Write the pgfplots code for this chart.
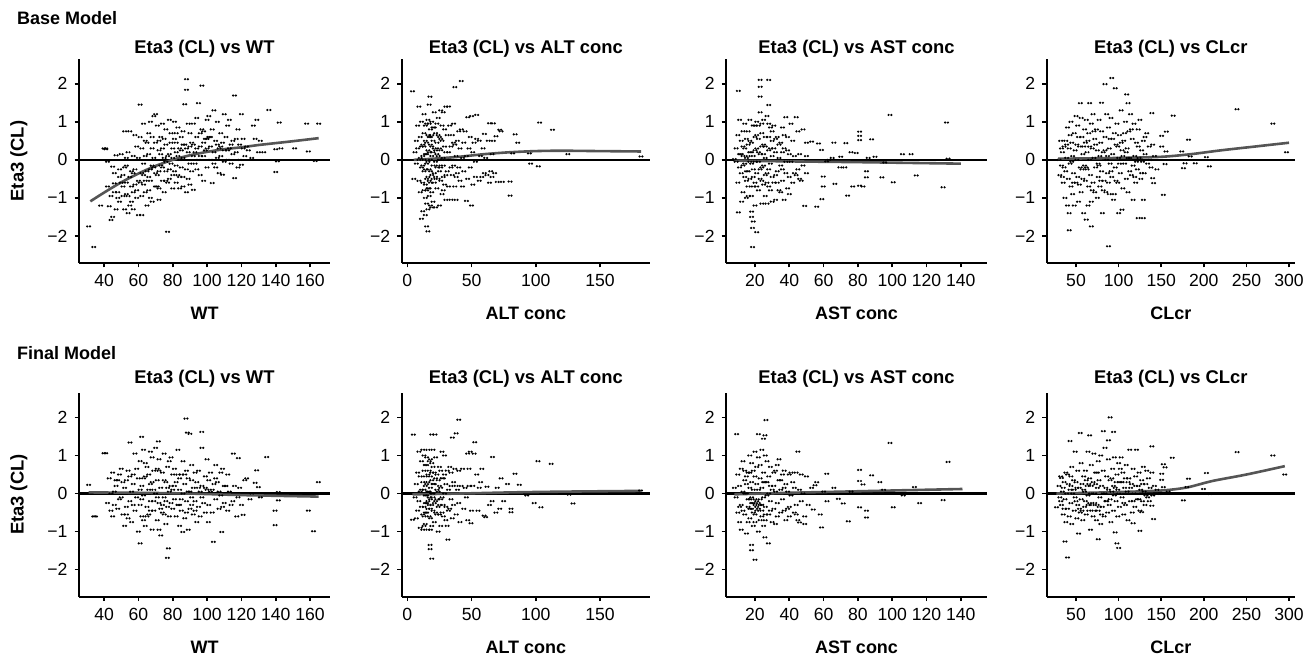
\documentclass[border=0pt]{standalone}
\usepackage{pgfplots}
\pgfplotsset{compat=1.18}
\usepackage{fontspec}
\setmainfont{Liberation Sans}

\definecolor{smooth}{RGB}{85,85,85}

% paired dots, as in the original scatter
\pgfdeclareplotmark{pair}{%
  \pgfpathcircle{\pgfqpoint{-0.7pt}{0pt}}{0.62pt}%
  \pgfpathcircle{\pgfqpoint{0.7pt}{0pt}}{0.62pt}%
  \pgfusepathqfill}

\pgfplotsset{
  every axis title shift=0pt,
  panel/.style={
    scale only axis, height=102pt,
    anchor=south west,
    axis x line*=bottom, axis y line*=left,
    axis line style={-, line width=1.2pt},
    tick align=outside, major tick length=2.2pt,
    major tick style={line width=0.8pt, black},
    ymin=-2.71, ymax=2.65,
    ytick={-2,-1,0,1,2}, yticklabels={−2,−1,0,1,2},
    /pgf/number format/assume math mode=true,
    ticklabel style={font=\fontsize{8.8}{10}\selectfont},
    xlabel style={font=\fontsize{9}{11}\selectfont\bfseries,
      at={(axis description cs:0.5,0)}, anchor=base, yshift=-28.4pt},
    title style={font=\fontsize{9.2}{11}\selectfont\bfseries,
      at={(axis description cs:0.5,1)}, anchor=base},
    clip=false,
  },
  toprow/.style={title style={yshift=2.9pt}},
  botrow/.style={title style={yshift=4.6pt}},
  colA/.style={width=125.5pt, xmin=25.4, xmax=171.6, xtick={40,60,...,160}, xlabel={WT}},
  colB/.style={width=124.15pt, xmin=-4.4, xmax=189, xtick={0,50,100,150}, xlabel={ALT conc}},
  colC/.style={width=130.5pt, xmin=3.1, xmax=155.3, xtick={20,40,...,140}, xlabel={AST conc}},
  colD/.style={width=124.15pt, xmin=15.6, xmax=307, xtick={50,100,...,300}, xlabel={CLcr}},
  pts/.style={only marks, mark=pair, color=black, fill=black},
  zero/.style={color=black, line width=1.2pt, no markers},
  fit/.style={color=smooth, smooth, line width=1.3pt, no markers},
}

\begin{document}
\begin{tikzpicture}
\path[use as bounding box] (0,0) rectangle (658pt,327.5pt);

\node[anchor=base west, font=\fontsize{9}{10}\selectfont\bfseries] at (5pt,315pt) {Base Model};
\node[anchor=base west, font=\fontsize{9}{10}\selectfont\bfseries] at (5pt,147.85pt) {Final Model};
\node[rotate=90, anchor=base, font=\fontsize{9.2}{11}\selectfont\bfseries] at (11.8pt,247pt) {Eta3 (CL)};
\node[rotate=90, anchor=base, font=\fontsize{9.2}{11}\selectfont\bfseries] at (11.8pt,80.2pt) {Eta3 (CL)};

% ---------------- Base model: WT
\begin{axis}[panel, toprow, colA, at={(39.5pt,196pt)}, title={Eta3 (CL) vs WT}]
\addplot[pts] coordinates {
(31,-1.75)(34,-2.29)(40,0.3)(41,0.28)(38,-1.2)
(41,0.3)(42,-0.05)(43,-1.22)(44,-1.58)(45,-1.5)(46,-0.62)(46,-0.35)(47,0.12)(48,-0.85)(48,-1.0)(49,-0.25)(49,-1.1)(50,0.15)(50,-0.6)(44,-0.95)(47,-1.3)(45,-0.18)(42,-0.7)
(51,-0.4)(52,-1.3)(52,0.75)(53,-0.9)(53,-0.15)(54,-1.4)(54,0.2)(55,0.75)(55,-0.45)(56,-1.1)(56,-0.7)(57,0.1)(57,-1.3)(58,0.65)(58,-0.25)(59,-1.0)(59,0.35)(60,-0.55)(60,-1.45)(51,-0.95)(53,0.05)(55,-1.2)(57,-0.35)(59,-0.8)(52,-0.2)
(61,1.45)(61,-0.6)(62,0.3)(62,-1.45)(63,-0.1)(63,0.95)(64,-0.85)(64,0.5)(65,-0.3)(65,-1.2)(66,0.15)(66,0.7)(67,-0.55)(67,1.0)(68,-1.1)(68,0.3)(69,1.15)(69,-0.2)(70,-0.7)(70,0.45)(62,-0.95)(64,0.1)(66,-0.45)(68,-0.15)(70,1.2)(61,0.6)(63,-0.65)(65,0.45)(67,-1.0)(69,0.05)
(71,0.9)(71,-0.4)(72,-1.05)(72,0.25)(73,0.6)(73,-0.15)(74,-0.55)(74,0.95)(75,0.05)(75,-0.85)(76,0.4)(76,-0.3)(77,-1.89)(77,0.1)(78,1.05)(78,-0.5)(79,0.7)(79,-0.1)(80,-0.75)(80,0.3)(72,0.5)(74,-0.2)(76,0.8)(78,0.15)(80,-0.4)(71,-0.7)(73,0.15)(75,0.55)(77,-0.6)(79,0.45)
(81,1.0)(81,-0.3)(82,0.45)(82,-0.6)(83,0.1)(83,0.85)(84,-0.75)(84,0.3)(85,0.6)(85,-0.2)(86,-0.45)(86,0.05)(87,1.46)(87,0.4)(88,2.12)(88,1.84)(88,-0.85)(89,0.2)(89,-0.5)(90,0.7)(90,-0.1)(82,0.2)(84,0.0)(86,0.75)(88,0.3)(90,-0.65)(81,0.55)(83,-0.4)(85,0.25)(89,0.95)
(91,0.45)(91,-0.3)(92,-0.79)(92,0.95)(93,0.2)(93,-0.1)(94,0.6)(94,1.1)(95,1.49)(95,0.0)(96,-0.4)(96,0.35)(97,1.95)(97,0.8)(98,0.1)(98,-0.55)(99,0.55)(99,0.25)(100,1.05)(100,-0.2)(92,0.4)(94,-0.25)(96,0.7)(98,0.45)(100,0.3)
(101,0.6)(101,1.15)(102,0.0)(102,0.35)(103,-0.61)(103,0.8)(104,1.3)(104,0.2)(105,0.5)(105,-0.2)(106,1.0)(106,0.05)(107,0.3)(107,-0.35)(108,0.7)(108,0.1)(109,-0.39)(109,0.45)(110,1.2)(110,0.25)
(111,0.6)(112,0.0)(112,0.9)(113,0.3)(114,-0.1)(115,0.5)(116,-0.48)(116,1.69)(117,0.2)(118,0.8)(119,0.4)(120,-0.13)(120,1.2)(121,0.55)(122,0.1)(123,0.35)(124,0.25)(113,1.05)(115,0.15)(118,-0.2)
(126,0.05)(127,0.9)(128,0.55)(129,1.05)(130,0.2)(131,0.5)(133,0.2)(136,1.31)(140,0.28)(140,-0.32)(141,-0.04)(142,0.98)(143,0.3)(151,0.3)(158,0.95)(159,0.22)(163,-0.03)(165,0.95)
(46,-0.85)(49,-0.45)(51,-0.7)(54,-0.95)(56,-0.3)(58,-0.65)(60,0.05)(62,-0.35)(64,-0.55)(66,-0.8)(68,0.6)(70,-0.35)(72,-0.3)(74,0.3)(76,-0.05)(78,-0.25)(80,0.05)(82,0.7)(84,-0.45)(86,0.4)(88,-0.25)(90,0.35)(92,0.1)(94,0.3)(96,0.1)(98,0.75)(100,0.55)(102,0.6)(104,-0.1)(106,0.4)(108,0.35)(110,-0.05)(112,0.25)(114,0.4)(117,0.55)(119,0.0)(121,0.3)(72,-0.75)(76,-0.55)(82,-0.15)(86,-0.7)(63,-0.4)(67,-0.25)(57,-0.85)(53,-0.6)
};
\addplot[zero] coordinates {(25.4,0) (171.6,0)};
\addplot[fit] coordinates {(32,-1.09)(40,-0.86)(50,-0.59)(60,-0.36)(70,-0.16)(80,0.0)(90,0.12)(100,0.21)(110,0.28)(120,0.33)(130,0.39)(140,0.44)(150,0.49)(165,0.57)};
\end{axis}

% ---------------- Base model: ALT
\begin{axis}[panel, toprow, colB, at={(200.85pt,196pt)}, title={Eta3 (CL) vs ALT conc}]
\addplot[pts] coordinates {
(4,1.8)(17.6,1.66)(37,1.91)(42,2.07)(103,0.98)(113,0.79)(80,-0.94)(80,-0.57)(82,0.17)(95,0.17)(96,-0.1)(102,-0.17)(125,0.15)(182,0.09)(50,-1.2)(46,-1.08)(16,-1.88)(15,-1.75)(67,0.96)(64,0.96)(72,0.79)(54,1.18)(84,0.67)(86,0.45)
(5,-0.5)(6,0.2)(7,-0.1)(8,0.9)(8,0.3)(9,-0.55)(9,1.4)(10,0.6)(10,-0.85)(11,-0.2)(11,1.0)(12,-1.35)(12,0.4)(12,-0.6)(7,0.5)(10,0.05)(11,-1.55)(9,0.0)
(13,1.2)(13,-0.3)(13,0.7)(14,-1.0)(14,0.15)(14,-1.45)(14,0.9)(15,-0.5)(15,0.45)(15,-0.1)(16,1.05)(16,-0.75)(16,0.25)(16,-1.3)(17,0.6)(17,-0.25)(17,1.45)(17,-0.95)(18,0.0)(18,0.8)(18,-0.6)(18,-1.2)(19,0.35)(19,-0.4)(19,1.0)(20,-1.1)(20,0.5)(20,-0.15)(13,-0.8)(15,0.95)(16,-0.45)(17,0.2)(19,-0.85)(20,0.85)(14,0.5)(18,0.4)(15,-1.15)(19,0.1)
(21,1.25)(21,-0.35)(21,0.3)(22,-1.25)(22,0.7)(22,-0.05)(23,0.45)(23,-0.75)(24,1.1)(24,0.1)(24,-0.5)(25,-1.2)(25,0.6)(26,-0.2)(26,0.25)(26,1.3)(27,-0.9)(27,0.5)(28,0.05)(28,1.25)(28,-0.45)(29,0.8)(29,-0.65)(30,1.4)(30,0.2)(30,-1.05)(23,0.95)(25,-0.3)(27,0.0)(29,0.35)
(31,-0.3)(31,0.65)(32,1.4)(32,-0.7)(33,0.0)(33,0.9)(34,-1.05)(34,0.35)(35,-0.4)(35,0.65)(36,0.95)(36,-0.15)(37,0.4)(37,-0.7)(38,0.1)(38,-1.05)(39,0.5)(39,-0.35)(40,0.75)(40,-0.2)
(41,0.3)(41,-0.55)(42,0.8)(43,0.05)(43,-0.7)(44,0.45)(44,-0.3)(45,0.75)(46,0.1)(47,-0.5)(47,1.12)(48,0.3)(49,-0.2)(49,0.6)(50,1.15)(51,-0.65)(51,0.2)(52,0.45)(53,-0.45)(53,-0.05)(54,0.55)
(56,0.5)(56,-0.55)(57,0.1)(58,-0.45)(59,0.3)(60,0.68)(60,-0.35)(61,0.05)(62,-0.4)(63,0.5)(64,-0.6)(65,-0.3)(66,0.15)(66,-0.45)(67,0.5)(68,-0.35)(69,0.62)(70,-0.58)(73,0.75)(74,-0.58)
(12,0.1)(13,0.35)(14,-0.65)(15,0.15)(16,0.65)(17,-0.55)(18,-0.3)(19,0.65)(20,0.2)(21,-0.6)(22,0.25)(23,-0.2)(24,0.65)(25,0.0)(26,-0.55)(27,0.9)(28,-0.15)(12,-0.15)(14,-0.25)(16,-0.05)(18,0.6)(20,-0.5)(22,-0.45)(24,-0.15)(26,0.55)(28,-0.8)(30,-0.4)(32,0.2)(34,-0.2)(36,0.45)(38,-0.45)(15,-0.8)(17,0.95)(19,-1.25)(21,0.85)(23,0.15)(25,0.3)(11,0.35)(13,0.0)(17,-0.75)
};
\addplot[zero] coordinates {(-4.4,0) (189,0)};
\addplot[fit] coordinates {(5,0.0)(20,0.03)(40,0.08)(60,0.15)(80,0.2)(100,0.23)(120,0.24)(150,0.23)(182,0.22)};
\end{axis}

% ---------------- Base model: AST
\begin{axis}[panel, toprow, colC, at={(363pt,196pt)}, title={Eta3 (CL) vs AST conc}]
\addplot[pts] coordinates {
(10.3,1.81)(23,2.1)(28,2.1)(23,1.92)(23,1.66)(28,1.44)(98.7,1.18)(131.7,0.98)(81,0.74)(81,0.63)(81,0.52)(88,0.54)(73,0.44)(18,-1.36)(18,-1.5)(19,-1.62)(18.6,-1.79)(21,-1.9)(18.6,-2.29)(10.3,-1.38)(12.2,-1.1)(49,-1.21)(56,-1.23)(59,-1.03)(74,-0.94)(77,-0.7)(83,-0.7)(85,-0.46)(94,-0.46)(100.6,-0.59)(95.7,-0.07)(106,0.15)(111,0.15)(114,-0.41)(129.7,-0.72)(132.6,0.03)(69.5,-0.2)(72.4,-0.2)(66.6,-0.63)(59.8,-0.44)(59.8,-0.7)(58.8,0.26)(61.8,-0.04)(65,0.05)(70,0.08)(76,0.2)(79,0.18)(86,0.05)(90,0.08)(53,0.48)(50,0.45)(57,0.43)(66,0.45)(63,0.0)(81,-0.68)(85,-0.3)
(8,0.02)(9,-0.05)(9,0.3)(10,0.65)(10,-0.6)(11,1.05)(11,0.15)(12,-0.35)(12,0.5)(13,0.75)(13,-0.15)(13,-0.85)(14,0.3)(14,-0.45)(14,0.95)(15,0.05)(15,-1.0)(15,0.55)(16,-0.3)(16,0.75)(16,-0.7)(17,0.2)(17,1.05)(17,-0.5)(18,-0.1)(18,0.45)(18,-0.95)(19,0.9)(19,-0.25)(19,0.1)(20,-0.6)(20,0.6)(20,-1.2)(11,-0.2)(13,0.35)(15,-0.55)(17,-0.05)(19,-0.45)(16,0.1)(20,0.25)
(21,1.0)(21,-0.35)(21,0.3)(22,-0.8)(22,0.55)(22,-0.05)(23,1.25)(23,-0.5)(23,0.15)(24,-1.15)(24,0.7)(24,-0.2)(25,0.4)(25,-0.65)(25,1.05)(26,-0.95)(26,0.05)(26,0.6)(27,-0.35)(27,1.15)(27,-1.15)(28,0.25)(28,-0.7)(29,0.85)(29,-0.1)(30,-1.1)(30,0.5)(30,-0.45)(22,0.9)(24,0.35)(26,-0.4)(28,0.6)(30,0.1)(21,-0.7)(25,-0.15)(29,0.3)
(31,-0.6)(31,0.9)(32,0.2)(32,-1.05)(33,-0.3)(33,0.6)(34,0.05)(34,-0.8)(35,0.45)(35,-0.15)(36,0.85)(36,-0.55)(37,-1.05)(37,0.3)(38,1.12)(38,-0.35)(39,0.6)(39,-0.75)(40,0.15)(40,-0.45)(41,0.95)(41,-0.05)(42,0.5)(42,-0.6)(43,0.1)(44,1.12)(44,-0.4)(45,0.75)(45,-0.25)(46,0.15)(47,-0.55)(48,0.8)(48,-0.15)(50,0.1)(50,-0.35)
(12,0.15)(14,-0.1)(16,0.4)(18,0.2)(20,-0.05)(22,0.2)(24,-0.55)(26,0.35)(28,-0.25)(30,0.75)(32,-0.4)(34,0.4)(36,0.2)(38,-0.05)(40,-0.9)(15,-0.3)(17,0.5)(19,-0.7)(21,0.65)(23,-0.25)(25,0.15)(27,-0.6)(29,-0.8)(31,0.3)(33,-0.6)(35,-0.85)(37,0.65)(39,0.25)(13,0.1)(16,-0.95)(20,0.9)(24,0.95)(28,0.95)(32,0.55)(36,-0.25)(43,-0.35)(46,-0.5)
};
\addplot[zero] coordinates {(3.1,0) (155.3,0)};
\addplot[fit] coordinates {(8,-0.02)(40,-0.04)(80,-0.06)(110,-0.08)(140,-0.1)};
\end{axis}

% ---------------- Base model: CLcr
\begin{axis}[panel, toprow, colD, at={(523.35pt,196pt)}, title={Eta3 (CL) vs CLcr}]
\addplot[pts] coordinates {
(84,1.99)(92,2.15)(96,1.88)(88,-2.27)(42,-1.85)(68,-1.75)(62,-1.57)(109.5,1.72)(111,1.49)(55,1.49)(66,1.49)(80,1.5)(139,1.23)(164,1.16)(239,1.33)(281,0.95)(297,0.2)(182,0.53)(150.5,0.63)(156,0.74)(174,0.22)(184,0.09)(178,-0.09)(176,-0.22)(190,-0.09)(203,0.07)(206.5,-0.17)(152.5,-0.92)(123,-1.53)(129,-1.53)(100,-1.4)(104,-1.31)(117,-1.05)(129,-1.05)(150.5,0.35)(155.6,0.22)(154.5,-0.11)(140,-0.48)(141,-0.61)
(30,0.0)(31,-0.4)(32,0.5)(33,-0.15)(34,0.2)(35,-0.6)(36,0.35)(37,-1.0)(38,0.5)(38,-0.3)(39,0.05)(40,-1.2)(40,0.85)(41,-0.5)(42,0.3)(42,-1.4)(43,-0.1)(44,1.0)(44,-0.7)(45,0.45)(46,-0.9)(46,0.1)(47,-0.35)(48,0.7)(48,-1.2)(49,0.25)(50,-0.6)(50,1.15)(51,0.0)(52,-0.45)(52,0.9)(53,-1.1)(54,0.35)(55,-0.2)(56,1.1)(56,-0.85)(57,0.6)(58,-0.5)(58,0.15)(59,-1.4)(60,0.8)(60,-0.15)(36,-0.2)(45,-0.05)(54,-0.65)(33,0.3)
(61,-0.55)(61,0.45)(62,1.05)(63,-0.25)(63,0.2)(64,-1.2)(65,0.7)(65,-0.7)(66,0.0)(67,-0.4)(68,0.95)(68,-1.1)(69,0.3)(70,-0.6)(70,1.2)(71,0.05)(72,-0.85)(72,0.55)(73,-0.2)(74,0.8)(75,-1.0)(75,0.25)(76,-0.45)(77,1.05)(78,0.1)(78,-0.7)(79,0.45)(80,-0.3)(80,0.75)(81,-1.4)(82,0.2)(83,-0.55)(84,0.6)(85,-0.85)(86,1.2)(86,0.0)(87,-0.35)(88,0.85)(89,0.3)(89,-0.9)(90,-0.1)(90,0.55)(64,0.5)(76,-0.1)(88,-0.6)
(91,1.1)(92,-0.45)(93,0.15)(94,-1.05)(95,0.7)(96,-0.2)(97,0.4)(98,0.95)(99,-0.6)(100,0.05)(101,0.65)(102,-0.35)(103,1.3)(104,0.25)(105,-0.75)(106,0.5)(107,-0.1)(108,1.0)(109,-0.5)(110,0.3)(111,-0.85)(112,0.75)(113,0.05)(114,1.2)(115,-0.4)(116,0.55)(117,-0.15)(118,0.95)(119,0.1)(120,-0.6)(121,0.45)(122,-0.25)(123,0.8)(124,0.05)(125,1.05)(126,-0.5)(127,0.25)(128,-0.05)(129,0.5)(130,-0.35)(131,0.15)(133,0.7)(134,-0.1)(136,0.35)(137,0.0)(138,-0.2)(140,0.4)(142,0.1)(145,-0.25)
(34,-0.45)(39,0.4)(43,0.65)(47,-0.6)(51,0.4)(53,0.6)(57,-0.25)(59,0.35)(62,-0.2)(66,0.35)(69,-0.8)(71,0.75)(73,0.4)(77,-0.15)(79,-0.55)(82,-0.8)(84,0.25)(87,0.1)(91,-0.3)(93,0.55)(95,-0.9)(97,-0.55)(99,0.35)(101,-0.1)(103,0.45)(105,0.1)(107,0.7)(109,0.2)(111,0.05)(113,-0.3)(115,0.8)(119,-0.45)(121,-0.05)(123,0.35)(127,-0.35)(131,0.6)
};
\addplot[zero] coordinates {(15.6,0) (307,0)};
\addplot[fit] coordinates {(29,0.03)(100,0.05)(150,0.08)(185,0.15)(220,0.25)(260,0.35)(300,0.45)};
\end{axis}

% ---------------- Final model: WT
\begin{axis}[panel, botrow, colA, at={(39.5pt,29.15pt)}, title={Eta3 (CL) vs WT}]
\addplot[pts] coordinates {
(87.7,1.97)(88.5,1.6)(90,1.57)(96.9,1.62)(61.9,1.49)(55.1,1.34)(71.6,1.37)(134.7,0.96)(115.3,1.05)(118.2,0.93)(40,1.06)(41,1.06)(31,0.23)(34,-0.6)(35,-0.6)(164.8,0.3)(159,-0.45)(162,-0.99)(139.6,-0.45)(139.6,-0.83)(141.5,0.04)(141.5,-0.18)(128.9,0.61)(128,0.28)(129.9,0.17)(77.5,-1.44)(76.9,-1.69)(61,-1.31)(103.7,-1.27)(108.5,-1.01)(85.8,-1.01)(94,-0.75)(100.8,-0.75)(117.3,-0.6)(121,-0.56)(131,-0.1)(126,0.0)(123,0.4)(114,-0.3)(111,0.2)
(42,-0.25)(43,0.4)(44,-0.45)(45,0.55)(46,0.05)(46,-0.3)(47,0.2)(48,-0.4)(49,0.5)(50,-0.1)(50,0.65)(51,-0.55)(52,0.15)(52,-0.85)(53,0.35)(54,-0.65)(54,0.6)(55,-0.2)(56,0.05)(56,-0.75)(57,0.5)(57,0.25)(58,-0.45)(58,1.05)(59,-0.1)(60,0.4)(60,-1.0)(44,0.0)(48,0.35)(53,-0.35)
(61,0.85)(61,-0.3)(62,0.2)(62,-0.6)(63,1.15)(63,-0.05)(64,0.45)(64,-0.85)(65,-0.35)(65,0.7)(66,0.1)(66,-0.55)(67,1.1)(67,-0.2)(68,0.3)(68,-0.95)(69,0.6)(69,-0.45)(70,1.2)(70,0.0)(71,-0.7)(71,0.35)(72,0.9)(72,-0.25)(73,-1.1)(73,0.15)(74,0.55)(74,-0.5)(75,1.05)(75,-0.1)(76,0.3)(76,-0.8)(77,0.7)(77,-0.35)(78,0.05)(78,-0.6)(79,0.95)(79,0.2)(80,-0.4)(80,0.5)(63,-0.7)(66,0.5)(69,0.1)(72,-0.95)(75,0.35)(78,0.85)(62,-0.15)(67,0.25)(71,-0.1)(74,-0.3)
(81,-0.15)(81,0.65)(82,-0.6)(82,0.3)(83,1.15)(83,-0.3)(84,0.1)(84,-0.85)(85,0.5)(85,-0.45)(86,0.0)(86,0.85)(87,-0.65)(87,0.25)(88,-0.2)(88,0.6)(89,-0.95)(89,0.4)(90,0.05)(90,-0.4)(91,0.75)(91,0.35)(92,-0.55)(92,0.15)(93,0.55)(93,-0.2)(94,0.3)(95,-0.35)(95,0.6)(96,0.05)(96,-0.6)(97,1.2)(97,0.2)(98,-0.25)(99,0.45)(99,-0.5)(100,0.9)(100,0.1)(84,0.4)(91,-0.1)
(101,-0.3)(102,0.55)(102,0.05)(103,-0.5)(104,0.25)(105,-0.15)(105,0.75)(106,0.3)(107,-0.4)(108,0.55)(108,-0.05)(109,0.65)(110,-0.25)(110,0.2)(112,-0.45)(112,0.5)(113,0.05)(115,-0.2)(116,0.2)(118,-0.1)(119,0.15)(120,-0.3)(122,0.35)(125,-0.15)
(45,-0.6)(47,0.35)(49,-0.15)(51,0.3)(53,-0.55)(55,0.45)(57,-0.3)(59,0.65)(61,0.1)(63,0.4)(65,-0.6)(67,-0.45)(69,-0.2)(71,0.65)(73,-0.4)(75,-0.55)(77,0.15)(79,-0.25)(81,0.2)(83,0.5)(85,-0.15)(87,0.5)(89,0.05)(91,-0.3)(93,-0.45)(95,0.15)(97,-0.1)(99,0.15)(101,0.35)(103,0.1)(105,0.4)(107,0.05)(109,-0.35)(64,0.8)(68,0.95)(72,0.6)(76,-0.2)(80,0.1)(84,-0.3)(88,-0.5)
};
\addplot[zero] coordinates {(25.4,0) (171.6,0)};
\addplot[fit] coordinates {(31,0.03)(60,0.02)(90,0.0)(120,-0.04)(165,-0.08)};
\end{axis}

% ---------------- Final model: ALT
\begin{axis}[panel, botrow, colB, at={(200.85pt,29.15pt)}, title={Eta3 (CL) vs ALT conc}]
\addplot[pts] coordinates {
(4.7,1.55)(19,1.55)(21.5,1.55)(35,1.47)(38,1.58)(40,1.94)(52.5,1.35)(101.7,0.85)(112,0.78)(19,-1.71)(17.7,-1.46)(17.7,-1.35)(4,-0.69)(31.6,-1.21)(80.7,-0.4)(80.7,-0.49)(98.8,-0.25)(104,-0.36)(126,-0.03)(129,-0.26)(83.8,0.52)(87.2,0.23)(66.3,0.96)(59.8,-0.58)(47,-0.7)(49.6,-0.78)(181.6,0.08)(93,-0.05)(78,0.25)(75,-0.2)(72,-0.4)(70,0.15)(69,-0.5)(64,-0.3)(62,0.18)(61,-0.62)(56,0.15)(58,0.65)(55,-0.45)(54,0.5)(57,0.3)(66,-0.2)(73,0.4)
(6,-0.1)(7,0.25)(8,-0.45)(8,0.55)(9,1.1)(9,-0.2)(10,0.05)(10,-0.9)(11,0.85)(11,-0.35)(12,0.3)(12,-0.95)(7,-0.65)(10,0.45)(12,1.15)
(13,-0.6)(13,0.1)(13,1.0)(14,-0.25)(14,0.45)(14,-0.8)(15,0.75)(15,-0.05)(15,-0.5)(16,0.3)(16,1.15)(16,-0.95)(17,-0.3)(17,0.6)(17,0.05)(18,-0.65)(18,0.9)(18,-0.15)(19,0.35)(19,-0.85)(19,0.0)(20,0.7)(20,-0.45)(20,1.15)(13,-0.35)(14,0.2)(15,0.95)(16,-0.2)(17,-0.6)(18,0.15)(19,0.55)(20,-0.1)(16,0.5)(14,-0.5)(18,-0.4)
(21,-0.75)(21,0.25)(22,0.95)(22,-0.2)(23,0.5)(23,-0.55)(24,0.05)(24,-1.0)(25,0.7)(25,-0.3)(26,0.15)(26,-0.85)(27,1.1)(27,-0.1)(28,0.4)(28,-0.6)(29,0.0)(29,1.0)(30,-0.35)(30,0.25)(31,0.6)(31,-0.85)(32,0.1)(33,-0.4)(33,0.7)(34,0.2)(34,-0.15)(35,-0.65)(22,0.4)(26,0.6)(30,-0.7)
(36,0.3)(36,-0.3)(37,0.65)(38,-0.55)(39,0.1)(40,0.6)(40,-0.25)(41,-0.75)(42,0.2)(43,0.65)(44,-0.4)(45,0.15)(46,-0.1)(47,1.05)(48,0.2)(48,0.65)(49,1.1)(50,-0.45)(51,0.2)(52,1.05)
(11,0.1)(12,-0.55)(13,0.6)(14,-0.05)(15,0.25)(16,-0.4)(17,0.85)(18,0.45)(19,-0.3)(20,0.25)(21,-0.25)(22,-0.5)(23,0.1)(24,0.35)(25,-0.55)(26,-0.15)(27,0.4)(28,-0.3)(13,-0.85)(15,-0.25)(17,-0.1)(19,0.8)(21,0.55)(23,-0.15)(25,0.2)(27,-0.5)(29,0.5)(32,-0.45)(34,0.55)(38,0.2)(14,0.75)(16,0.05)(18,-0.95)(20,0.0)(24,-0.35)
};
\addplot[zero] coordinates {(-4.4,0) (189,0)};
\addplot[fit] coordinates {(4,-0.02)(40,0.0)(80,0.03)(120,0.05)(182,0.07)};
\end{axis}

% ---------------- Final model: AST
\begin{axis}[panel, botrow, colC, at={(363pt,29.15pt)}, title={Eta3 (CL) vs AST conc}]
\addplot[pts] coordinates {
(9.3,1.56)(26.4,1.93)(22,1.56)(25.8,1.53)(24.9,1.44)(98.7,1.33)(132.6,0.83)(81,0.62)(81,0.33)(83,0.24)(88,0.48)(92.8,0.3)(20,-1.74)(18,-1.35)(18,-1.49)(27.8,-1.31)(25.8,-1.15)(58.8,-0.89)(74.4,-0.73)(85,-0.45)(85,-0.63)(81,-0.36)(100.6,-0.36)(116,-0.25)(129.7,-0.17)(106.4,-0.05)(131.7,0.0)(113,0.17)(68.6,-0.14)(71.5,-0.26)(46,-0.76)(49,-0.8)(54,-0.42)(61.8,0.52)(95,0.1)(76,0.05)(66,0.15)(60,0.05)(58,-0.55)(56,0.3)(53,0.15)(51,-0.3)(62,-0.2)(55,0.22)
(8,0.15)(9,-0.1)(10,0.5)(10,-0.5)(11,0.2)(11,-0.75)(12,0.65)(12,-0.3)(13,0.05)(13,0.85)(14,-0.55)(14,0.35)(15,-1.05)(15,0.0)(16,0.55)(16,-0.35)(17,1.0)(17,-0.15)(17,-0.65)(18,0.3)(18,-0.4)(18,0.8)(19,-0.25)(19,0.1)(19,-0.85)(20,0.45)(20,-0.3)(20,1.1)(12,-0.95)(14,0.0)(16,-0.75)(18,-0.1)(20,-0.55)(15,0.45)(19,0.6)(17,0.15)
(21,-0.2)(21,0.7)(21,-0.45)(22,0.1)(22,-1.0)(22,0.95)(23,-0.3)(23,0.4)(24,-0.6)(24,0.15)(24,1.15)(25,-0.1)(25,0.55)(25,-0.85)(26,0.3)(26,-0.35)(27,0.85)(27,-0.05)(28,-0.55)(28,0.45)(29,-0.2)(29,0.7)(30,0.1)(30,-0.75)(21,0.25)(23,-0.7)(26,1.0)(28,0.0)(22,-0.25)(24,-0.3)
(31,0.55)(31,-0.4)(32,0.05)(32,-0.8)(33,0.75)(33,-0.25)(34,0.35)(34,0.9)(35,-0.5)(35,0.1)(36,-0.15)(37,0.6)(37,-0.45)(38,0.25)(38,-0.7)(39,0.05)(40,0.5)(40,-0.35)(41,-0.05)(42,0.3)(43,-0.5)(44,0.55)(44,-0.3)(45,1.1)(45,-0.7)(46,0.1)(47,0.5)(47,-0.2)(48,0.0)(49,-0.6)(50,0.45)
(13,-0.45)(15,0.25)(16,-0.15)(17,-0.4)(18,-0.25)(19,-0.5)(20,-0.15)(21,-0.35)(22,-0.4)(23,-0.15)(24,-0.45)(25,0.3)(26,-0.55)(27,0.3)(29,-0.45)(31,0.2)(33,-0.6)(35,0.35)(37,0.15)(39,-0.4)(41,0.55)(43,0.15)(11,-0.35)(14,0.6)(17,0.55)(20,-0.75)(23,0.75)(26,-0.7)(29,0.2)(32,0.6)(36,0.5)(40,-0.6)(44,-0.55)
};
\addplot[zero] coordinates {(3.1,0) (155.3,0)};
\addplot[fit] coordinates {(8,-0.02)(40,0.02)(80,0.06)(110,0.09)(141,0.12)};
\end{axis}

% ---------------- Final model: CLcr
\begin{axis}[panel, botrow, colD, at={(523.35pt,29.15pt)}, title={Eta3 (CL) vs CLcr}]
\addplot[pts] coordinates {
(90,2.0)(82,1.64)(94,1.62)(88,1.4)(55,1.59)(66,1.53)(43,1.38)(40,-1.68)(37,-1.26)(76,-1.2)(96,-1.02)(98,-1.31)(100,-1.43)(117,-0.78)(125,-0.98)(141,-0.67)(127,-0.49)(139,-0.32)(139,1.24)(163,0.94)(152.5,0.77)(154.5,0.69)(150.5,0.52)(150.5,0.36)(152.5,0.17)(148,-0.01)(182,0.39)(180,0.17)(176,-0.18)(203,0.54)(199.5,0.12)(207,-0.01)(239,1.09)(281,1.0)(295,0.5)(27,-0.36)(33,0.41)(158,0.05)(145,0.1)
(30,0.2)(31,-0.1)(32,0.45)(33,-0.3)(34,0.05)(35,-0.55)(36,0.3)(37,-0.15)(38,0.55)(38,-0.75)(39,0.0)(40,-0.4)(41,0.25)(42,-0.6)(43,0.1)(44,-0.25)(45,0.7)(45,-0.8)(46,0.0)(47,0.35)(48,-0.45)(49,1.1)(49,-0.1)(50,0.3)(51,-0.65)(52,0.6)(52,-0.3)(53,-1.05)(54,0.15)(55,-0.5)(56,0.8)(56,-0.15)(57,0.25)(58,-0.7)(59,0.45)(60,-0.35)(60,0.05)(35,0.15)(44,0.2)(50,-0.2)
(61,0.6)(61,-0.2)(62,-0.55)(63,0.2)(64,1.1)(64,-0.05)(65,-0.45)(66,0.4)(67,-0.95)(67,0.0)(68,0.75)(69,-0.3)(70,0.3)(70,-0.6)(71,1.05)(72,0.0)(72,-0.25)(73,0.55)(74,-0.7)(75,0.15)(76,0.85)(76,-0.45)(77,0.35)(78,-0.1)(79,1.0)(79,-0.8)(80,0.2)(81,-0.35)(82,0.6)(83,-0.6)(84,1.2)(84,0.0)(85,-0.2)(86,0.45)(87,-0.5)(88,0.9)(88,0.1)(89,-0.3)(90,0.35)(91,-0.75)(92,0.05)(93,0.65)(94,-0.45)(95,0.95)(96,0.15)(97,-0.2)(98,0.5)(99,-0.6)(100,0.8)(100,0.0)(65,0.25)(75,-0.3)(85,0.15)(95,-0.05)
(101,-0.35)(102,0.3)(103,0.95)(104,-0.1)(105,0.55)(106,-0.55)(107,0.15)(108,-0.3)(109,0.75)(110,0.05)(111,-0.7)(112,0.4)(113,1.15)(114,-0.2)(115,0.25)(116,-0.5)(117,0.65)(118,0.0)(119,-0.35)(120,0.45)(121,1.15)(122,-0.15)(123,0.2)(124,0.55)(125,-0.45)(126,0.1)(127,0.35)(128,-0.2)(129,0.7)(130,0.05)(131,-0.3)(132,0.25)(133,0.6)(134,-0.1)(135,0.4)(136,-0.2)(137,0.15)(139,0.55)(140,-0.05)(142,0.2)
(32,-0.2)(36,-0.4)(40,0.5)(44,0.45)(48,0.1)(51,0.15)(54,-0.4)(57,-0.45)(59,0.1)(62,0.35)(64,-0.3)(66,-0.25)(68,0.2)(71,-0.45)(73,0.25)(75,0.55)(77,-0.35)(80,-0.55)(82,0.0)(86,-0.2)(90,-0.15)(92,0.4)(94,0.2)(97,0.3)(99,0.1)(102,0.65)(104,0.3)(106,-0.25)(108,0.4)(111,0.3)(114,0.15)(117,-0.2)(120,0.2)(124,-0.15)(128,0.25)(132,-0.05)
};
\addplot[zero] coordinates {(15.6,0) (307,0)};
\addplot[fit] coordinates {(27,0.0)(100,0.04)(150,0.08)(180,0.16)(210,0.33)(250,0.5)(295,0.72)};
\end{axis}
\end{tikzpicture}
\end{document}
